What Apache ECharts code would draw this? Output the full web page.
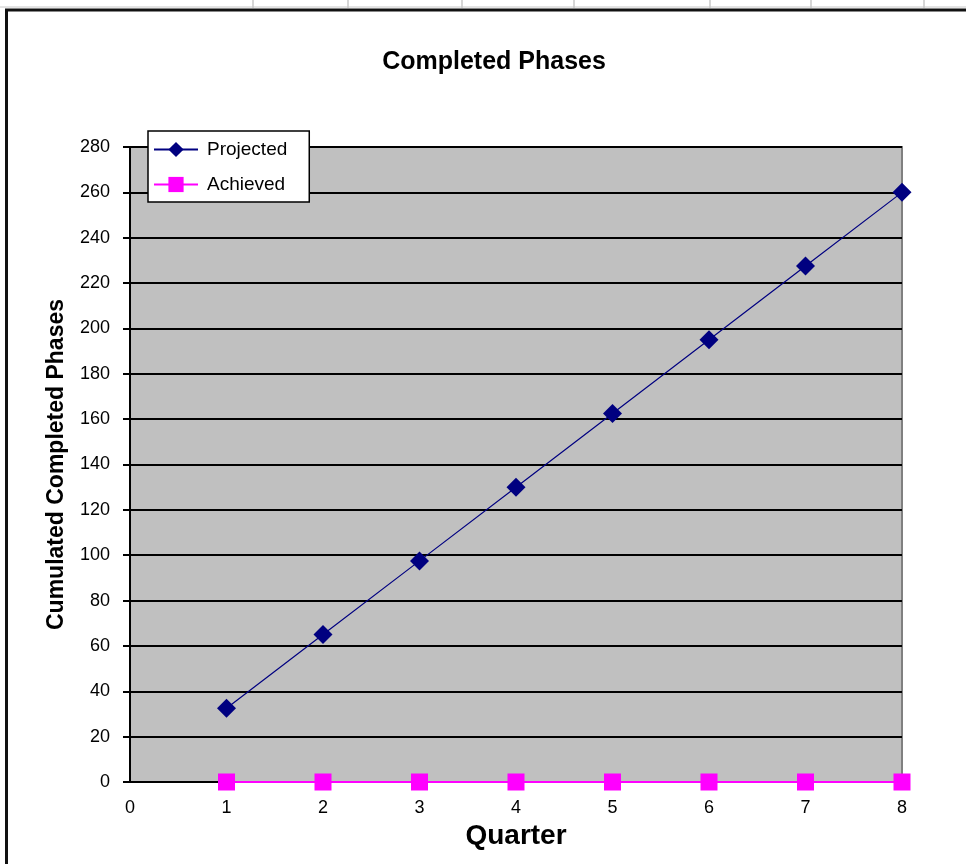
<!DOCTYPE html>
<html>
<head>
<meta charset="utf-8">
<script src="https://cdn.jsdelivr.net/npm/echarts@6/dist/echarts.min.js"></script>
<style>
  html, body { margin: 0; padding: 0; background: #fff; }
  #container { width: 966px; height: 864px; }
</style>
</head>
<body>
<div id="container"></div>
<script>
var quarters = [1, 2, 3, 4, 5, 6, 7, 8];
var projected = [32.5, 65, 97.5, 130, 162.5, 195, 227.5, 260];
var achieved = [0, 0, 0, 0, 0, 0, 0, 0];
// spreadsheet cell borders visible above the chart frame
var cellLines = [253, 348, 462, 574, 710, 811, 924];

function pairs(xs, ys) {
    return xs.map(function (x, i) { return [x, ys[i]]; });
}

var myChart = echarts.init(document.getElementById('container'));

var graphics = [
    { type: 'line', shape: { x1: 0, y1: 7, x2: 966, y2: 7 }, style: { stroke: '#c8c8c8', lineWidth: 1 } },
    { type: 'line', shape: { x1: 5, y1: 10, x2: 966, y2: 10 }, style: { stroke: '#111', lineWidth: 3 } },
    { type: 'line', shape: { x1: 6.5, y1: 9, x2: 6.5, y2: 864 }, style: { stroke: '#111', lineWidth: 3 } }
];
cellLines.forEach(function (x) {
    graphics.push({ type: 'line', shape: { x1: x, y1: 0, x2: x, y2: 8 }, style: { stroke: '#c8c8c8', lineWidth: 1.5 } });
});

var option = {
    backgroundColor: '#fff',
    animation: false,
    textStyle: { fontFamily: 'Liberation Sans, Arial, sans-serif', color: '#000' },
    title: {
        text: 'Completed Phases',
        left: 489,
        textAlign: 'center',
        top: 45,
        textStyle: { fontSize: 25, fontWeight: 'bold', color: '#000' }
    },
    legend: {
        orient: 'vertical',
        left: 148,
        top: 131,
        data: ['Projected', 'Achieved'],
        backgroundColor: '#fff',
        borderColor: '#000',
        borderWidth: 1.5,
        borderRadius: 0,
        padding: [9, 22, 8, 5],
        itemGap: 16,
        itemWidth: 44,
        itemHeight: 19,
        textStyle: { fontSize: 19, color: '#000', padding: [0, 0, 0, 4] }
    },
    grid: {
        left: 130,
        right: 64,
        top: 147,
        bottom: 82,
        outerBoundsMode: 'none',
        show: true,
        backgroundColor: '#C0C0C0',
        borderColor: '#808080',
        borderWidth: 2
    },
    xAxis: {
        type: 'value',
        min: 0,
        max: 8,
        interval: 1,
        name: 'Quarter',
        nameLocation: 'middle',
        nameGap: 36,
        nameTextStyle: { fontSize: 28, fontWeight: 'bold', color: '#000' },
        axisLine: { onZero: false, lineStyle: { color: '#000', width: 2 } },
        axisTick: { show: false },
        axisLabel: { fontSize: 18, color: '#000', margin: 17 },
        splitLine: { show: false }
    },
    yAxis: {
        type: 'value',
        min: 0,
        max: 280,
        interval: 20,
        name: 'Cumulated Completed Phases',
        nameLocation: 'middle',
        nameGap: 62,
        nameTextStyle: { fontSize: 23, fontWeight: 'bold', color: '#000' },
        axisLine: { show: true, lineStyle: { color: '#000', width: 2 } },
        axisTick: { show: true, length: 7, lineStyle: { color: '#000', width: 2 } },
        axisLabel: { fontSize: 18, color: '#000', margin: 20 },
        splitLine: { show: true, lineStyle: { color: '#000', width: 2 } }
    },
    series: [
        {
            name: 'Projected',
            type: 'line',
            data: pairs(quarters, projected),
            symbol: 'diamond',
            symbolSize: 19,
            itemStyle: { color: '#000080' },
            lineStyle: { color: '#000080', width: 1.2 },
            z: 3
        },
        {
            name: 'Achieved',
            type: 'line',
            data: pairs(quarters, achieved),
            symbol: 'rect',
            symbolSize: 17,
            itemStyle: { color: '#FF00FF' },
            lineStyle: { color: '#FF00FF', width: 2 },
            z: 4
        }
    ],
    graphic: graphics
};
myChart.setOption(option);
</script>
</body>
</html>
